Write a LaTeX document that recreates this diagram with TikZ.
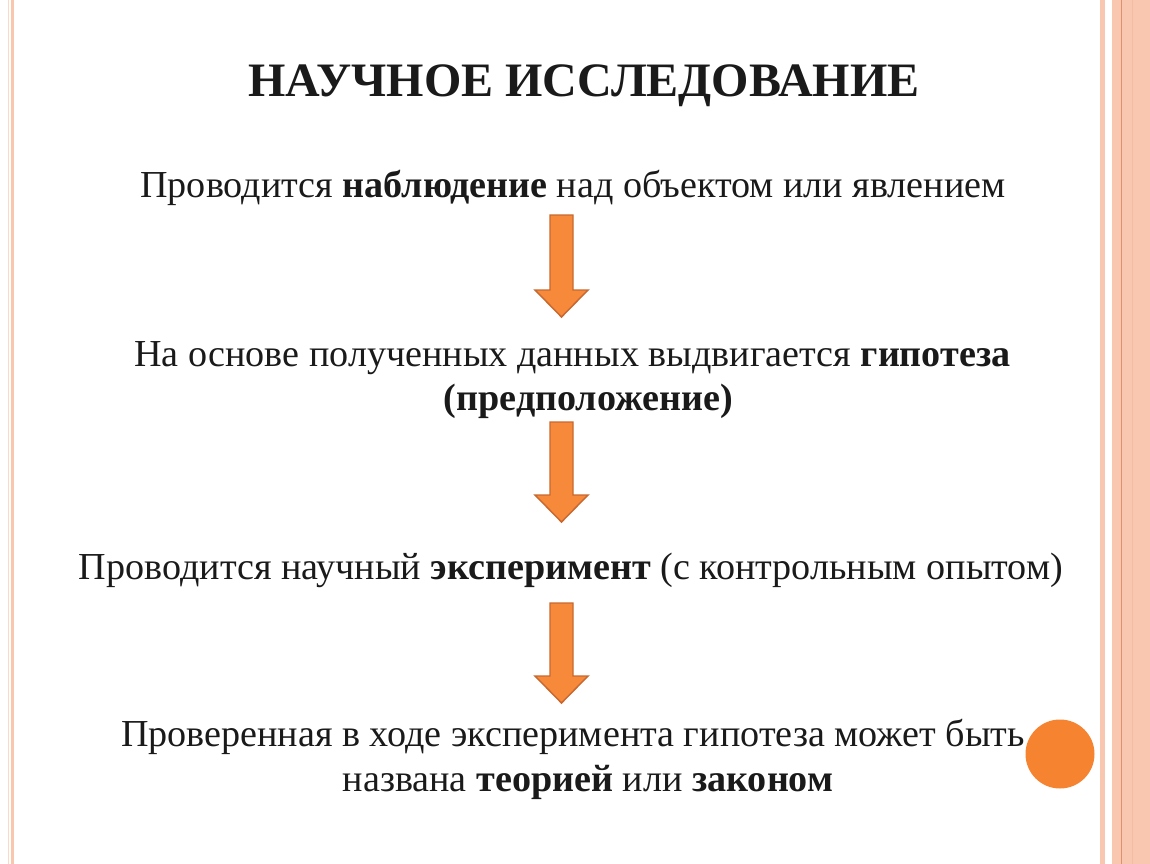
\documentclass[tikz,border=0pt]{standalone}
\usepackage{fontspec}
\setmainfont{Liberation Serif}
\definecolor{peach}{HTML}{F9C7B0}
\definecolor{peachdark}{HTML}{E0906C}
\definecolor{arrowfill}{HTML}{F7893B}
\definecolor{arrowline}{HTML}{C8682E}
\definecolor{dotfill}{HTML}{F5832F}
\definecolor{ink}{HTML}{1A1A1A}
\tikzset{
	heading/.style={font=\fontsize{36}{40}\selectfont\bfseries, text=ink, anchor=base, inner sep=0pt},
	line/.style={font=\fontsize{28.6}{34}\selectfont, text=ink, anchor=base, inner sep=0pt},
	blockarrow/.style={fill=arrowfill, draw=arrowline, line width=1.1pt, line join=miter}
}
\newcommand{\downarrowat}[2]{% top y, tip y
	\draw [blockarrow] (550,#1) -- (573,#1) -- (573,#2-27) -- (588,#2-27) -- (561.5,#2) -- (535,#2-27) -- (550,#2-27) -- cycle;
}
\begin{document}
\begin{tikzpicture}[x=0.75pt,y=-0.75pt]
		\useasboundingbox (0,0) rectangle (1150,864);
		% borders
		\fill [peach!70] (7.5,0) rectangle (8.7,864);
		\fill [peach] (10.5,0) rectangle (14,864);
		\fill [peach] (1100,0) rectangle (1105,864);
		\fill [peach] (1112,0) rectangle (1150,864);
		\draw [peachdark, line width=0.8pt] (1121.5,0) -- (1121.5,864);
		\draw [peach!80!peachdark, line width=0.5pt] (1132,0) -- (1132,864);
		% text
		\node [heading] (title) at (584,96) {НАУЧНОЕ ИССЛЕДОВАНИЕ};
		\node [line] (obs) at (573,197) {Проводится \textbf{наблюдение} над объектом или явлением};
		\node [line] (hyp) at (572.5,366) {На основе полученных данных выдвигается \textbf{гипотеза}};
		\node [line] (hyp2) at (588.5,410) {\textbf{(предположение)}};
		\node [line] (exp) at (571,579) {Проводится научный \textbf{эксперимент} (с контрольным опытом)};
		\node [line] (res) at (573,746) {Проверенная в ходе эксперимента гипотеза может быть};
		\node [line] (res2) at (588,791) {названа \textbf{теорией} или \textbf{законом}};
		% arrows
		\downarrowat{215}{317}
		\downarrowat{422}{522}
		\downarrowat{603}{703}
		\fill [dotfill] (1060,754) circle (34.5);
\end{tikzpicture}
\end{document}
